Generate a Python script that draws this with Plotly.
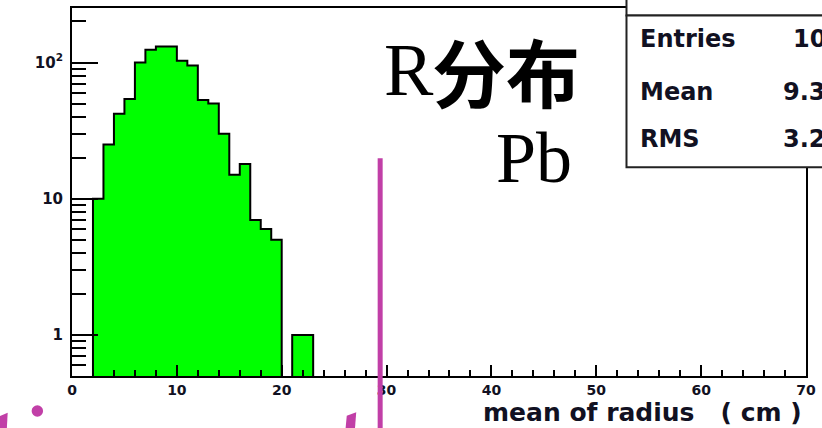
import plotly.graph_objects as go

# ---- data ----
bin_left = [2, 3, 4, 5, 6, 7, 8, 9, 10, 11, 12, 13, 14, 15, 16, 17, 18, 19, 20, 21, 22]
counts = [10, 25, 42, 54, 100, 124, 131, 131, 103, 95, 53, 50, 30, 15, 18, 7, 6, 5, 0, 1, 1]
bin_width = 1
x_ticks = [0, 10, 20, 30, 40, 50, 60, 70]
y_ticks = [1, 10, 100]
y_ticktext = ["1", "10", "10<sup>2</sup>"]
stats_names = ["Entries", "Mean", "RMS"]
stats_values = ["1000", "9.38", "3.22"]

W, H = 822, 428
ML, MR, MT, MB = 72, 14, 6, 52
PW, PH = W - ML - MR, H - MT - MB


def px(x):
    return (x - ML) / PW


def py(y):
    return (H - MB - y) / PH


centers = [b + bin_width / 2 for b in bin_left]
bx = [c for c, n in zip(centers, counts) if n > 0]
by = [n for n in counts if n > 0]

# step outline built from the bins
floor = 1e-3
sx, sy = [bin_left[0]], [floor]
for b, n in zip(bin_left, counts):
    v = n if n > 0 else floor
    sx += [b, b + bin_width]
    sy += [v, v]
sx.append(bin_left[-1] + bin_width)
sy.append(floor)

fig = go.Figure()
fig.add_trace(go.Bar(x=bx, y=by, width=bin_width, marker=dict(color="#00ff00", line=dict(width=0)),
                     showlegend=False, hoverinfo="skip"))
fig.add_trace(go.Scatter(x=sx, y=sy, mode="lines", line=dict(color="black", width=2),
                         showlegend=False, hoverinfo="skip"))

tickfont = dict(family="DejaVu Sans", size=14, color="#111122", weight="bold")

fig.update_layout(
    width=W, height=H,
    margin=dict(l=ML, r=MR, t=MT, b=MB),
    paper_bgcolor="white", plot_bgcolor="white",
    bargap=0,
    xaxis=dict(range=[0, 70], tickvals=x_ticks, ticks="inside", ticklen=11, tickwidth=2,
               tickcolor="black", showgrid=False, zeroline=False, showline=True, linecolor="black",
               linewidth=2, mirror=True, tickfont=tickfont,
               minor=dict(ticks="inside", ticklen=6, tickwidth=2, tickcolor="black", dtick=2, tick0=0,
                          showgrid=False)),
    yaxis=dict(type="log", range=[-0.3, 2.4], tickvals=y_ticks, ticktext=y_ticktext, ticks="inside",
               ticklen=26, tickwidth=2, tickcolor="black", showgrid=False, zeroline=False, showline=True,
               linecolor="black", linewidth=2, mirror=True,
               tickfont=dict(family="DejaVu Sans", size=15, color="#111122", weight="bold"),
               ticklabelstandoff=4,
               minor=dict(ticks="inside", ticklen=14, tickwidth=2, tickcolor="black", dtick="D1",
                          showgrid=False)),
)

shapes = []
# upper (title) box and statistics box
shapes.append(dict(type="rect", xref="paper", yref="paper", x0=px(628), x1=px(840), y0=py(13.5), y1=py(-20),
                   line=dict(color="#222222", width=2), fillcolor="white", layer="above"))
shapes.append(dict(type="rect", xref="paper", yref="paper", x0=px(628), x1=px(840), y0=py(166), y1=py(13.5),
                   line=dict(color="#222222", width=2), fillcolor="white", layer="above"))
# pink overlay line
pink = "#c13fa7"
shapes.append(dict(type="line", xref="paper", yref="paper", x0=px(381), x1=px(381), y0=py(157), y1=py(440),
                   line=dict(color=pink, width=5), layer="above"))
# fragments of large pink lettering at the bottom edge
def path(pts):
    return "M " + " L ".join(f"{px(a)},{py(b)}" for a, b in pts) + " Z"

shapes.append(dict(type="path", xref="paper", yref="paper",
                   path=path([(-2, 417), (7.5, 413), (6.5, 432), (-2, 432)]),
                   fillcolor=pink, line=dict(width=0), layer="above"))
shapes.append(dict(type="circle", xref="paper", yref="paper", x0=px(31.5), x1=px(43), y0=py(405.5), y1=py(417),
                   fillcolor=pink, line=dict(width=0), layer="above"))
shapes.append(dict(type="path", xref="paper", yref="paper",
                   path=path([(347.5, 416), (357, 412.5), (355.5, 432), (346, 432)]),
                   fillcolor=pink, line=dict(width=0), layer="above"))
fig.update_layout(shapes=shapes)

ann = []
statfont = dict(family="DejaVu Sans", size=24, color="#111122", weight="bold")
name_y = [37, 90, 138]
val_x = [793, 783, 783]
for name, val, yy, vx in zip(stats_names, stats_values, name_y, val_x):
    ann.append(dict(text=name, x=px(640), y=py(yy), xref="paper", yref="paper", xanchor="left",
                    yanchor="middle", showarrow=False, font=statfont))
    ann.append(dict(text=val, x=px(vx), y=py(yy), xref="paper", yref="paper", xanchor="left",
                    yanchor="middle", showarrow=False, font=statfont))

ann.append(dict(text="mean\u00a0of\u00a0radius\u00a0\u00a0\u00a0(\u00a0cm\u00a0)", x=px(806), y=py(413),
                xref="paper", yref="paper", xanchor="right", yanchor="middle", showarrow=False,
                font=dict(family="DejaVu Sans", size=25, color="#111122", weight="bold")))

ann.append(dict(text="R", x=px(383), y=py(68), xref="paper", yref="paper", xanchor="left", yanchor="middle",
                showarrow=False, font=dict(family="Liberation Serif", size=74, color="black")))
ann.append(dict(text="分布", x=px(431), y=py(68), xref="paper", yref="paper", xanchor="left", yanchor="middle",
                showarrow=False, font=dict(family="Noto Sans CJK SC", size=74, color="black", weight="bold")))
ann.append(dict(text="Pb", x=px(495), y=py(157), xref="paper", yref="paper", xanchor="left", yanchor="middle",
                showarrow=False, font=dict(family="Liberation Serif", size=72, color="black")))
fig.update_layout(annotations=ann)

fig.write_html("out.html", config={"displayModeBar": False},
               post_script="document.body.style.margin='0px';document.body.style.padding='0px';")
